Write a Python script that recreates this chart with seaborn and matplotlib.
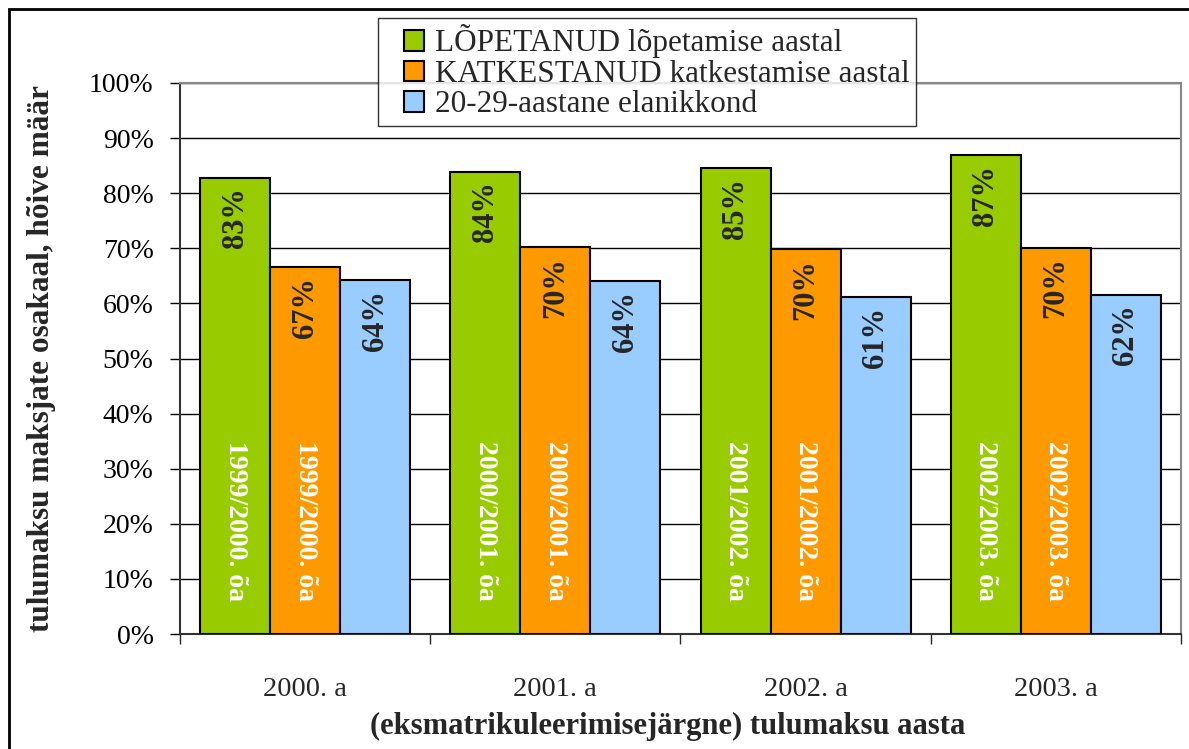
import matplotlib
matplotlib.use("Agg")
import matplotlib.pyplot as plt
import seaborn as sns
import pandas as pd
from matplotlib.patches import Patch, Rectangle
from matplotlib.legend_handler import HandlerPatch

# data
years = ["2000. a", "2001. a", "2002. a", "2003. a"]
series = ["LÕPETANUD lõpetamise aastal", "KATKESTANUD katkestamise aastal", "20-29-aastane elanikkond"]
lopetanud = [82.8, 83.9, 84.6, 86.9]
katkestanud = [66.6, 70.2, 69.8, 70.1]
elanikkond = [64.2, 64.1, 61.2, 61.6]
study_years = ["1999/2000. õa", "2000/2001. õa", "2001/2002. õa", "2002/2003. õa"]
colors = ["#99CC00", "#FF9900", "#99CCFF"]

df = pd.DataFrame({
    "aasta": years * 3,
    "grupp": [series[0]] * 4 + [series[1]] * 4 + [series[2]] * 4,
    "osakaal": lopetanud + katkestanud + elanikkond,
})

FONT = "Liberation Serif"
sns.set_style("white")
plt.rcParams["font.family"] = [FONT, "DejaVu Serif"]

fig = plt.figure(figsize=(11.89, 7.49), dpi=100)
ax = fig.add_axes([180 / 1189, 1 - 634 / 749, 1001 / 1189, 551 / 749])

sns.barplot(data=df, x="aasta", y="osakaal", hue="grupp", palette=colors, saturation=1,
            width=0.84, edgecolor="black", linewidth=1.5, ax=ax, legend=False,
            zorder=3)

ax.set_ylim(0, 100)
ax.set_xlim(-0.5, 3.5)
ax.set_yticks(range(0, 101, 10))
ax.set_yticklabels([f"{t}%" for t in range(0, 101, 10)], fontsize=20, family=FONT)
ax.yaxis.grid(True, color="black", linewidth=1, zorder=0)
ax.tick_params(axis="y", direction="out", length=7, width=1, left=True, pad=12, colors="black")
ax.set_xticks(range(4))
ax.set_xticklabels(years, fontsize=20.5, family=FONT)
ax.set_xticks([-0.5, 0.5, 1.5, 2.5, 3.5], minor=True)
ax.tick_params(axis="x", which="major", length=0, pad=31)
ax.tick_params(axis="x", which="minor", direction="out", length=7, width=1, bottom=True)

for side in ["left", "bottom"]:
    ax.spines[side].set_color("#333333")
    ax.spines[side].set_linewidth(1.5)
for side in ["top", "right"]:
    ax.spines[side].set_color("#888888")
    ax.spines[side].set_linewidth(1.5)

ax.set_xlabel("(eksmatrikuleerimisejärgne) tulumaksu aasta", fontsize=22, fontweight="bold",
              family=FONT, va="top")
ax.xaxis.set_label_coords(0.4875, -0.142)
ax.set_ylabel("tulumaksu maksjate osakaal, hõive määr", fontsize=22.5, fontweight="bold",
              family=FONT, labelpad=24)

# value labels near the bar tops, study-year labels inside green/orange bars
for i, cont in enumerate(ax.containers):
    for j, bar in enumerate(cont):
        cx = bar.get_x() + bar.get_width() / 2
        h = bar.get_height()
        ax.annotate(f"{h:.0f}%", (cx, h), xytext=(0, -7), textcoords="offset points",
                    rotation=90, ha="center", va="top", fontsize=22, fontweight="bold",
                    family=FONT, zorder=4)
        if i < 2:
            ax.text(cx, 35, study_years[j], rotation=-90, ha="center", va="top",
                    color="white", fontsize=20, fontweight="bold", family=FONT, zorder=4)


def square_handle(legend, orig_handle, xdescent, ydescent, width, height, fontsize):
    # small square sitting at the right end of the handle box
    return Rectangle((-xdescent + width - height, -ydescent), height, height)


handles = [Patch(facecolor=c, edgecolor="black", linewidth=1.5) for c in colors]
fig.legend(handles, series, loc="upper left", bbox_to_anchor=(378 / 1189, 1 - 18 / 749),
           prop={"family": FONT, "size": 22.5}, frameon=True, fancybox=False, edgecolor="black",
           handlelength=1.28, handleheight=0.64, handletextpad=0.35, labelspacing=0.05,
           borderpad=0.2, borderaxespad=0,
           handler_map={Patch: HandlerPatch(patch_func=square_handle)})

fig.patches.append(Rectangle((9 / 1189, -0.1), 1.2, 1 - 9 / 749 + 0.1, transform=fig.transFigure,
                             fill=False, edgecolor="black", linewidth=2))

fig.savefig("out.png", dpi=100)
